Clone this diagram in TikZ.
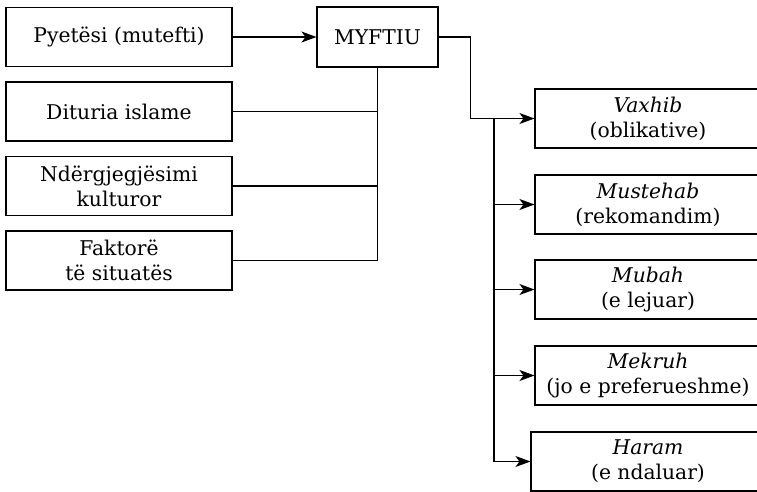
\documentclass[tikz,border=0pt]{standalone}
\usepackage{fontspec}
\setmainfont{DejaVu Serif}
\usetikzlibrary{arrows.meta,calc}
\tikzset{
  box/.style={draw=black, line width=1.1pt, minimum width=226pt, minimum height=59pt, align=center, inner sep=2pt, font=\fontsize{20.3}{25}\selectfont},
  conn/.style={draw=black, line width=1.1pt},
  arr/.style={conn, -{Stealth[length=15pt,width=11pt,inset=4pt]}}
}
\begin{document}
\begin{tikzpicture}[x=1pt,y=-1pt]
\useasboundingbox (0,0) rectangle (757,491);
\clip (0,0) rectangle (757,491);
% left column
\node[box] (q) at (119,37) {Pyetësi (mutefti)};
\node[box] (d) at (119,111.5) {Dituria islame};
\node[box] (n) at (119,186) {Ndërgjegjësimi\\kulturor};
\node[box] (f) at (119,260.5) {Faktorë\\të situatës};
% mufti
\node[box, minimum width=121pt, minimum height=60pt] (m) at (377.5,37) {MYFTIU};
% right column
\node[box] (v) at (648,118.5) {\textit{Vaxhib}\\(oblikative)};
\node[box] (s) at (648,204.5) {\textit{Mustehab}\\(rekomandim)};
\node[box] (b) at (648,289.5) {\textit{Mubah}\\(e lejuar)};
\node[box] (k) at (648,375.5) {\textit{Mekruh}\\(jo e preferueshme)};
\node[box, minimum width=234pt] (h) at (648,461.5) {\textit{Haram}\\(e ndaluar)};
% connectors
\draw[arr] (q) -- (m);
\draw[conn] (m.south) -- (m.south |- f.east) -- (f.east);
\draw[conn] (d.east) -- (m.south |- d.east);
\draw[conn] (n.east) -- (m.south |- n.east);
\coordinate (t) at ($(m.east)+(32,0)$);
\draw[arr] (m.east) -- (t) |- (v.west);
\coordinate (br) at (494,118.5);
\draw[arr] (br) |- (h.west);
\draw[arr] (br |- s.west) -- (s.west);
\draw[arr] (br |- b.west) -- (b.west);
\draw[arr] (br |- k.west) -- (k.west);
\end{tikzpicture}
\end{document}
